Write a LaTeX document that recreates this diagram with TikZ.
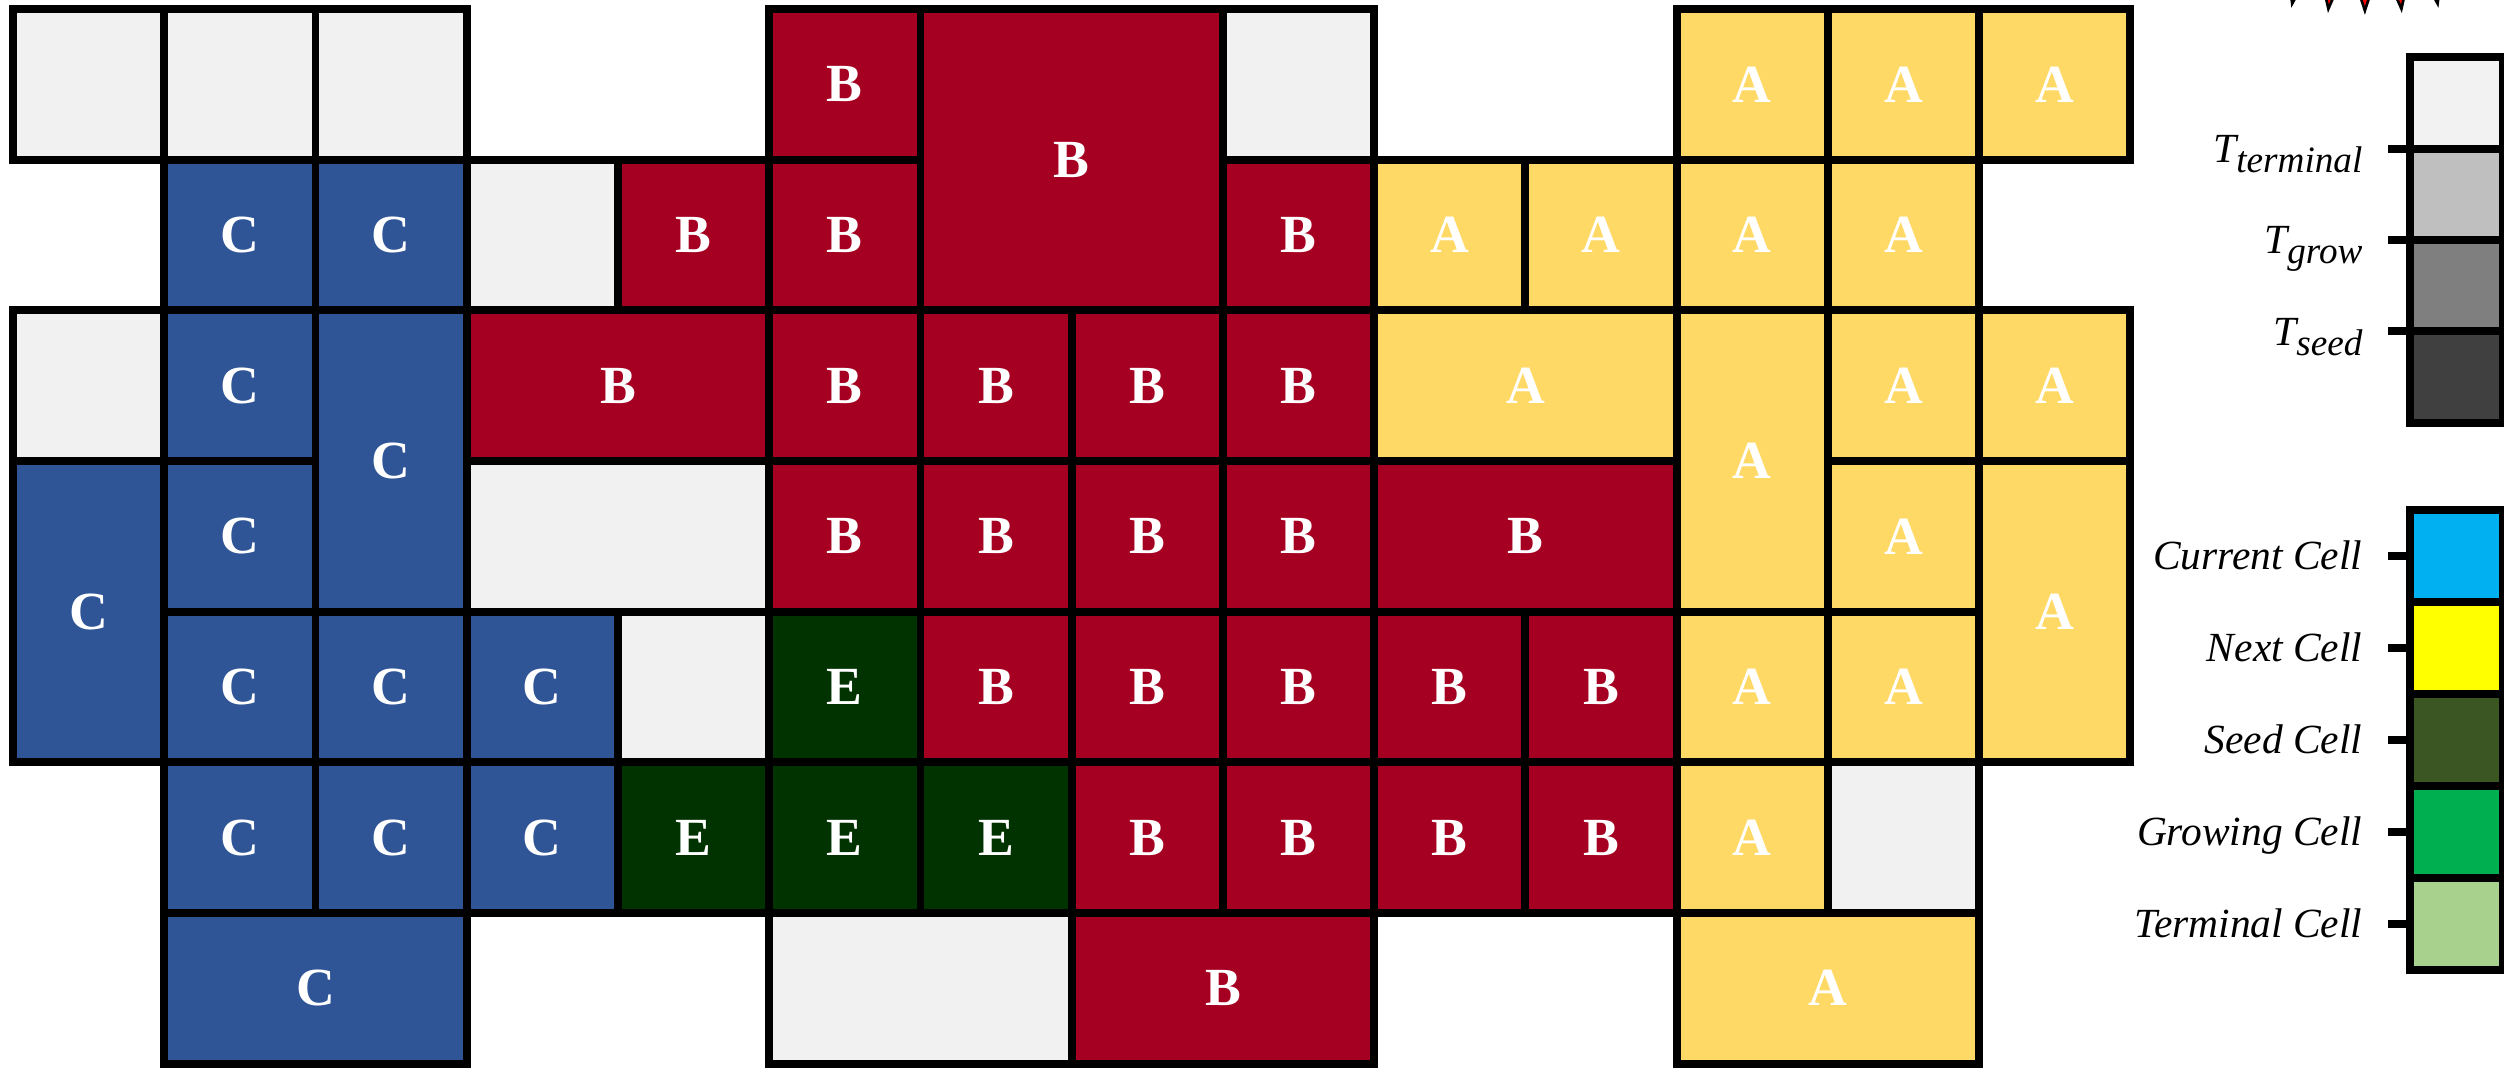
\documentclass[tikz,border=0pt]{standalone}
\usepackage{fontspec}
\setmainfont{Liberation Serif}
\usetikzlibrary{positioning}

\definecolor{regA}{HTML}{FFD966}
\definecolor{regB}{HTML}{A50021}
\definecolor{regC}{HTML}{2F5597}
\definecolor{regE}{HTML}{003300}
\definecolor{termgray}{HTML}{F1F1F1}
\definecolor{lvlA}{HTML}{F2F2F2}
\definecolor{lvlB}{HTML}{BFBFBF}
\definecolor{lvlC}{HTML}{7F7F7F}
\definecolor{lvlD}{HTML}{404040}
\definecolor{curcell}{HTML}{00B0F0}
\definecolor{nextcell}{HTML}{FFFF00}
\definecolor{seedcell}{HTML}{3B5623}
\definecolor{growcell}{HTML}{00B050}
\definecolor{endcell}{HTML}{A9D18E}

\newcommand{\thresh}[1]{\textit{T}\raisebox{-1.9pt}{\fontsize{7}{8}\selectfont\textit{#1}}}

\tikzset{
	cell/.style={draw=black, line width=1.5pt, anchor=north west, inner sep=0pt, outer sep=0pt,
		minimum width=1cm, minimum height=0.996cm, text=white,
		font=\bfseries\fontsize{10.1}{12}\selectfont},
	span2/.style={minimum width=2cm},
	rows2/.style={minimum height=1.992cm},
	cellA/.style={cell, fill=regA},
	cellB/.style={cell, fill=regB},
	cellC/.style={cell, fill=regC},
	cellE/.style={cell, fill=regE},
	cellT/.style={cell, fill=termgray},
	swatch/.style={draw=black, line width=1.5pt, anchor=north west, inner sep=0pt, outer sep=0pt,
		minimum width=0.61cm, minimum height=#1},
	legtick/.style={line width=1.5pt},
	legtext/.style={anchor=base east, inner sep=0pt, xshift=-0.14cm, yshift=-0.09cm,
		font=\itshape\fontsize{7.8}{9}\selectfont},
	spike/.style={fill=red, draw=black, line width=0.5pt, line join=miter}
}

\begin{document}
\begin{tikzpicture}[x=1cm, y=0.996cm]
		\useasboundingbox (-0.086cm,-7.008cm) rectangle (16.470cm,0.060cm);
		\clip (-0.086cm,-7.008cm) rectangle (16.470cm,0.060cm);

		% row 0
		\node [cellT] (t1) at (0,0) {};
		\node [cellT] (t2) at (1,0) {};
		\node [cellT] (t3) at (2,0) {};
		\node [cellB] (b1) at (5,0) {B};
		\node [cellB, span2, rows2] (b2) at (6,0) {B};
		\node [cellT] (t4) at (8,0) {};
		\node [cellA] (a1) at (11,0) {A};
		\node [cellA] (a2) at (12,0) {A};
		\node [cellA] (a3) at (13,0) {A};

		% row 1
		\node [cellC] (c1) at (1,-1) {C};
		\node [cellC] (c2) at (2,-1) {C};
		\node [cellT] (t5) at (3,-1) {};
		\node [cellB] (b3) at (4,-1) {B};
		\node [cellB] (b4) at (5,-1) {B};
		\node [cellB] (b5) at (8,-1) {B};
		\node [cellA] (a4) at (9,-1) {A};
		\node [cellA] (a5) at (10,-1) {A};
		\node [cellA] (a6) at (11,-1) {A};
		\node [cellA] (a7) at (12,-1) {A};

		% row 2
		\node [cellT] (t6) at (0,-2) {};
		\node [cellC] (c3) at (1,-2) {C};
		\node [cellC, rows2] (c4) at (2,-2) {C};
		\node [cellB, span2] (b6) at (3,-2) {B};
		\node [cellB] (b7) at (5,-2) {B};
		\node [cellB] (b8) at (6,-2) {B};
		\node [cellB] (b9) at (7,-2) {B};
		\node [cellB] (b10) at (8,-2) {B};
		\node [cellA, span2] (a8) at (9,-2) {A};
		\node [cellA, rows2] (a9) at (11,-2) {A};
		\node [cellA] (a10) at (12,-2) {A};
		\node [cellA] (a11) at (13,-2) {A};

		% row 3
		\node [cellC, rows2] (c5) at (0,-3) {C};
		\node [cellC] (c6) at (1,-3) {C};
		\node [cellT, span2] (t7) at (3,-3) {};
		\node [cellB] (b11) at (5,-3) {B};
		\node [cellB] (b12) at (6,-3) {B};
		\node [cellB] (b13) at (7,-3) {B};
		\node [cellB] (b14) at (8,-3) {B};
		\node [cellB, span2] (b15) at (9,-3) {B};
		\node [cellA] (a12) at (12,-3) {A};
		\node [cellA, rows2] (a13) at (13,-3) {A};

		% row 4
		\node [cellC] (c7) at (1,-4) {C};
		\node [cellC] (c8) at (2,-4) {C};
		\node [cellC] (c9) at (3,-4) {C};
		\node [cellT] (t8) at (4,-4) {};
		\node [cellE] (e1) at (5,-4) {E};
		\node [cellB] (b16) at (6,-4) {B};
		\node [cellB] (b17) at (7,-4) {B};
		\node [cellB] (b18) at (8,-4) {B};
		\node [cellB] (b19) at (9,-4) {B};
		\node [cellB] (b20) at (10,-4) {B};
		\node [cellA] (a14) at (11,-4) {A};
		\node [cellA] (a15) at (12,-4) {A};

		% row 5
		\node [cellC] (c10) at (1,-5) {C};
		\node [cellC] (c11) at (2,-5) {C};
		\node [cellC] (c12) at (3,-5) {C};
		\node [cellE] (e2) at (4,-5) {E};
		\node [cellE] (e3) at (5,-5) {E};
		\node [cellE] (e4) at (6,-5) {E};
		\node [cellB] (b21) at (7,-5) {B};
		\node [cellB] (b22) at (8,-5) {B};
		\node [cellB] (b23) at (9,-5) {B};
		\node [cellB] (b24) at (10,-5) {B};
		\node [cellA] (a16) at (11,-5) {A};
		\node [cellT] (t9) at (12,-5) {};

		% row 6
		\node [cellC, span2] (c13) at (1,-6) {C};
		\node [cellT, span2] (t10) at (5,-6) {};
		\node [cellB, span2] (b25) at (7,-6) {B};
		\node [cellA, span2] (a17) at (11,-6) {A};

		% threshold scale
		\node [swatch=0.604cm, fill=lvlA] (s1) at (15.85,-0.321) {};
		\node [swatch=0.604cm, fill=lvlB, below=0pt of s1] (s2) {};
		\node [swatch=0.604cm, fill=lvlC, below=0pt of s2] (s3) {};
		\node [swatch=0.604cm, fill=lvlD, below=0pt of s3] (s4) {};
		\draw [legtick] (s1.south west) -- ++(-0.15,0) node [legtext] {\thresh{terminal}};
		\draw [legtick] (s2.south west) -- ++(-0.15,0) node [legtext] {\thresh{grow}};
		\draw [legtick] (s3.south west) -- ++(-0.15,0) node [legtext] {\thresh{seed}};

		% cell states
		\node [swatch=0.608cm, fill=curcell] (k1) at (15.85,-3.328) {};
		\node [swatch=0.608cm, fill=nextcell, below=0pt of k1] (k2) {};
		\node [swatch=0.608cm, fill=seedcell, below=0pt of k2] (k3) {};
		\node [swatch=0.608cm, fill=growcell, below=0pt of k3] (k4) {};
		\node [swatch=0.608cm, fill=endcell, below=0pt of k4] (k5) {};
		\draw [legtick] (k1.west) -- ++(-0.15,0) node [legtext] {Current Cell};
		\draw [legtick] (k2.west) -- ++(-0.15,0) node [legtext] {Next Cell};
		\draw [legtick] (k3.west) -- ++(-0.15,0) node [legtext] {Seed Cell};
		\draw [legtick] (k4.west) -- ++(-0.15,0) node [legtext] {Growing Cell};
		\draw [legtick] (k5.west) -- ++(-0.15,0) node [legtext] {Terminal Cell};

		% burst cut off at the top edge
		\coordinate (burst) at (15.55,2.51);
		\foreach \a in {-106.5,-101,-95.5,-90,-84.5,-79,-73.5}
			\draw [spike, shift={(burst)}] (\a-2.75:2.2) -- (\a:2.52) -- (\a+2.75:2.2) -- cycle;
	\end{tikzpicture}
\end{document}
